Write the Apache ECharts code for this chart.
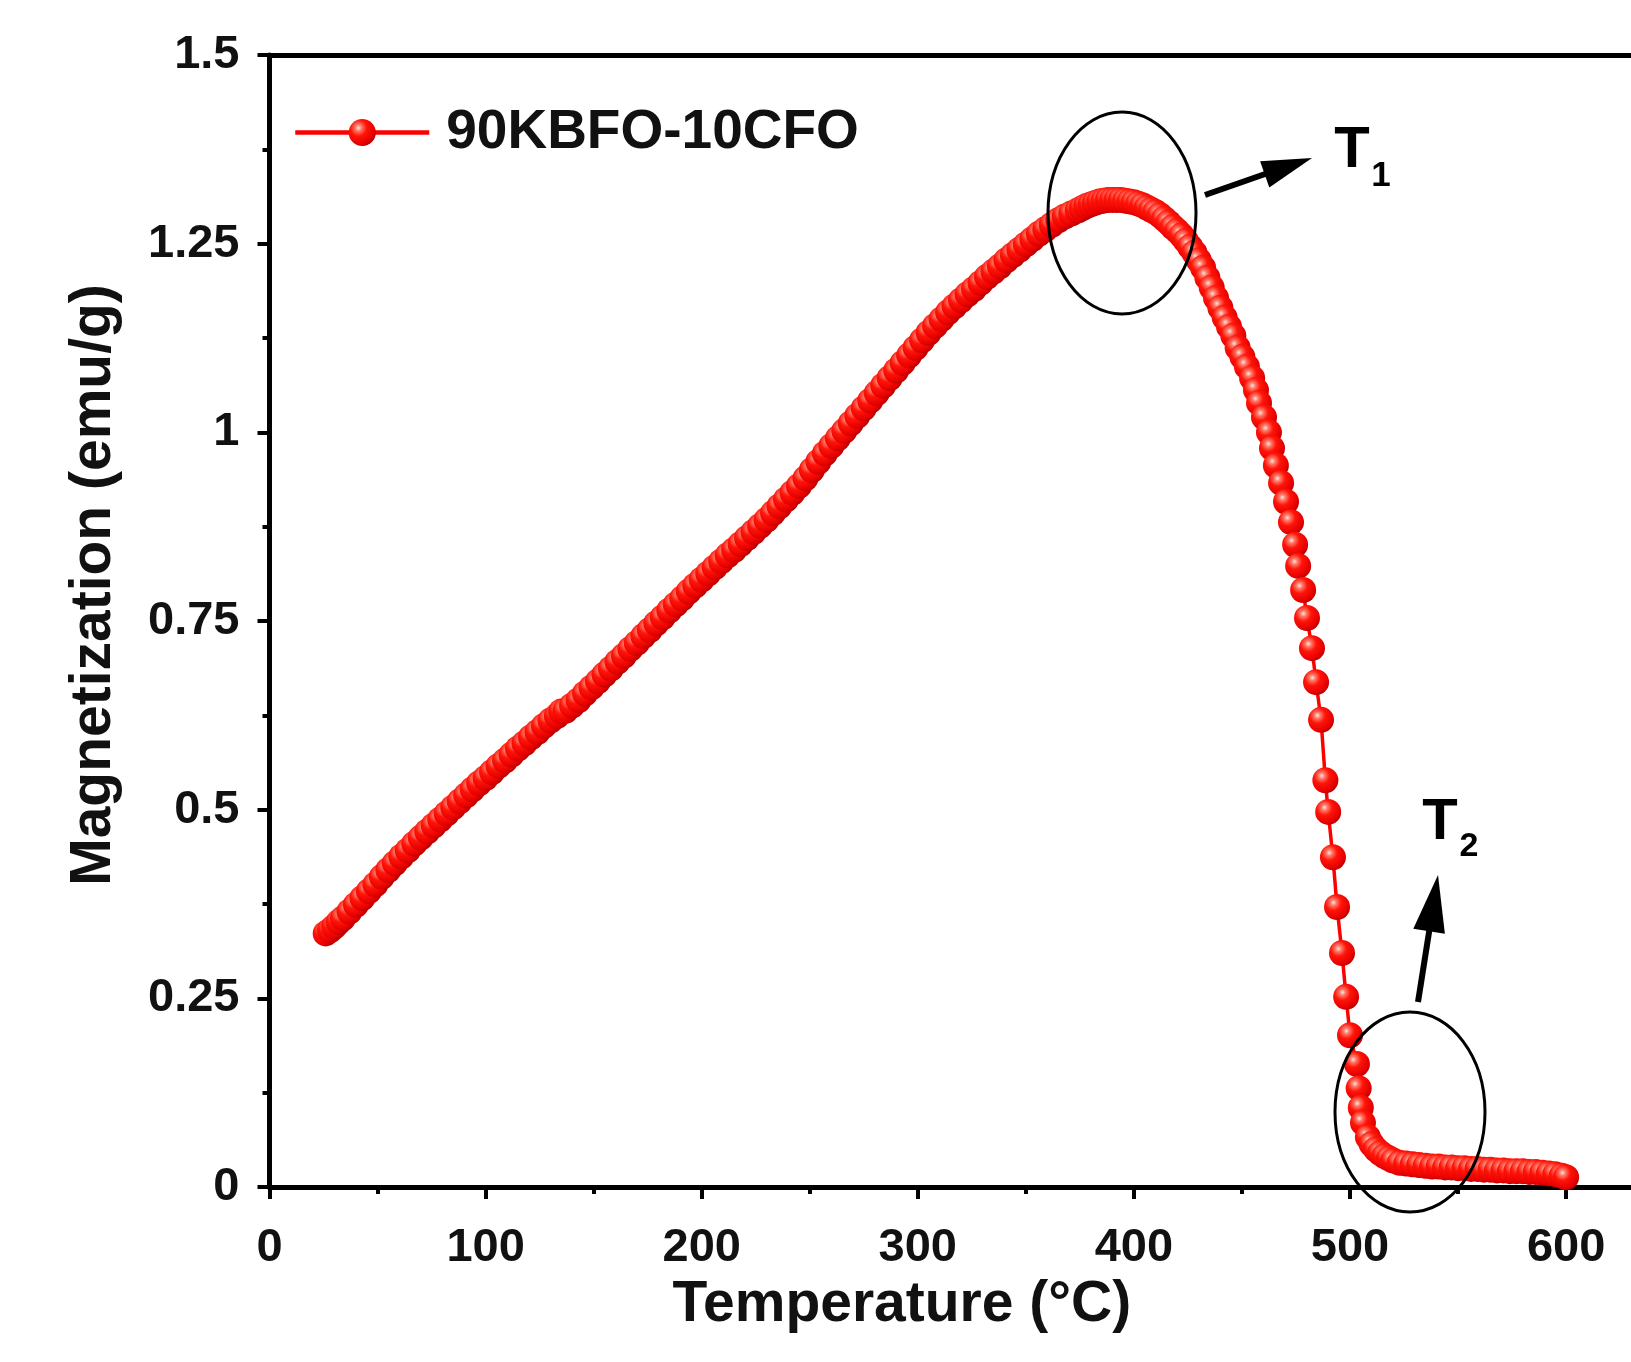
<!DOCTYPE html>
<html><head><meta charset="utf-8">
<script src="https://cdn.jsdelivr.net/npm/echarts@6/dist/echarts.min.js"></script>
<style>html,body{margin:0;padding:0;background:#fff}#c{width:1631px;height:1362px}</style>
</head><body><div id="c"></div><script>
const seriesName = '90KBFO-10CFO';
const xAxisTitle = 'Temperature (°C)';
const yAxisTitle = 'Magnetization (emu/g)';
const xTickLabels = ['0','100','200','300','400','500','600'];
const yTickLabels = ['0','0.25','0.5','0.75','1','1.25','1.5'];

const temperature = [
26,28,30,32,34,37,40,43,46,49,52,55,58,61,64,67,70,73,76,79,82,85,88,91,94,97,100,
103,106,109,112,115,118,121,124,127,130,133,135,137,140,143,146,149,152,155,158,161,164,167,170,
173,176,179,182,185,188,191,194,197,200,203,206,209,212,215,218,221,224,227,230,233,236,239,242,245,248,
251,254,257,260,263,266,269,272,275,278,281,284,287,290,293,296,299,302,305,308,311,314,317,320,
323,326,329,332,335,338,341,344,347,350,353,356,359,362,365,368,371,374,
376,378,380,382,384,386,388,390,392,394,396,398,400,402,404,406,408,410,412,414,416,418,420,
422,424,426,428,430,432,434,436,438,440,442,444,446,448,450.2,
452.3,454.7,456.5,457.9,460.2,462.5,463.9,465.7,468.1,470.4,472.7,474.6,476.0,478.3,480.1,482.4,484.3,486.6,
488.6,489.9,492.1,494.0,496.3,498.2,500.0,503.2,504.0,505.0,506.0,508.3,
510,512,514,516,518,520,523,526,529,532,535,538,541,544,547,550,553,556,559,562,565,568,571,574,577,580,583,586,589,592,595,598,600
];
const magnetization = [
0.336,0.340,0.345,0.351,0.356,0.365,0.374,0.383,0.392,0.401,0.411,0.420,0.429,0.438,0.446,0.455,0.463,0.471,0.479,0.487,0.495,0.503,0.511,0.519,0.527,0.535,0.542,
0.550,0.558,0.565,0.573,0.581,0.588,0.596,0.603,0.611,0.618,0.624,0.630,0.631,0.638,0.645,0.654,0.662,0.670,0.679,0.687,0.696,0.704,0.713,0.721,
0.730,0.738,0.747,0.755,0.764,0.772,0.780,0.789,0.797,0.805,0.813,0.821,0.829,0.837,0.844,0.852,0.860,0.868,0.876,0.884,0.893,0.902,0.911,0.920,0.929,0.939,
0.950,0.961,0.972,0.982,0.992,1.002,1.012,1.022,1.032,1.042,1.052,1.062,1.072,1.082,1.092,1.102,1.112,1.122,1.132,1.141,1.150,1.159,1.167,1.175,
1.183,1.190,1.198,1.206,1.213,1.220,1.228,1.235,1.242,1.249,1.256,1.263,1.269,1.275,1.281,1.286,1.290,1.294,
1.297,1.300,1.302,1.304,1.306,1.307,1.308,1.308,1.308,1.308,1.307,1.306,1.305,1.303,1.301,1.298,1.295,1.292,1.288,1.283,1.278,1.272,1.267,
1.261,1.254,1.246,1.238,1.228,1.218,1.205,1.192,1.178,1.165,1.152,1.140,1.128,1.112,1.100,
1.087,1.072,1.056,1.039,1.020,1.000,0.979,0.956,0.933,0.908,0.881,0.851,0.823,0.791,0.754,0.714,0.669,0.619,
0.539,0.497,0.437,0.371,0.310,0.252,0.201,0.163,0.131,0.105,0.085,0.066,
0.057,0.050,0.045,0.041,0.038,0.035,0.032,0.031,0.030,0.029,0.028,0.027,0.027,0.026,0.026,0.025,0.025,0.024,0.024,0.023,0.023,0.022,0.022,0.021,0.021,0.021,0.020,0.020,0.019,0.018,0.017,0.015,0.013
];

const FONT = '"Liberation Sans", Arial, Helvetica, sans-serif';
const ballFill = {
  type: 'radial', x: 0.36, y: 0.33, r: 0.72,
  colorStops: [
    {offset: 0, color: '#ffe6de'},
    {offset: 0.16, color: '#ff7a6a'},
    {offset: 0.42, color: '#ff1408'},
    {offset: 0.82, color: '#e60000'},
    {offset: 1, color: '#b30000'}
  ]
};

const chart = echarts.init(document.getElementById('c'), null, {renderer: 'canvas'});
const axisLineStyle = {color: '#000', width: 5};
const labelStyle = {fontFamily: FONT, fontWeight: 'bold', fontSize: 47, color: '#111'};
const titleStyle = {fontFamily: FONT, fontWeight: 'bold', fontSize: 57, color: '#111'};

const option = {
  animation: false,
  backgroundColor: '#fff',
  grid: {left: 269.5, top: 55, width: 1512.7, height: 1132, containLabel: false, outerBoundsMode: 'none'},
  legend: {
    data: [seriesName],
    left: 293, top: 105, padding: 0,
    itemWidth: 134, itemHeight: 34,
    lineStyle: {width: 4.5},
    textStyle: {fontFamily: FONT, fontWeight: 'bold', fontSize: 55, color: '#111', lineHeight: 34, padding: [0, 0, 0, 12]}
  },
  xAxis: [{
    type: 'value', min: 0, max: 700, interval: 100, position: 'bottom',
    axisLine: {lineStyle: axisLineStyle},
    axisTick: {length: 12, lineStyle: {width: 4, color: '#000'}},
    minorTick: {show: true, splitNumber: 2, length: 7, lineStyle: {width: 4, color: '#000'}},
    splitLine: {show: false},
    axisLabel: Object.assign({margin: 38, formatter: v => xTickLabels.includes(String(v)) ? String(v) : ''}, labelStyle),
    name: xAxisTitle, nameLocation: 'middle', nameGap: 90,
    nameTextStyle: Object.assign({padding: [0, 248, 0, 0]}, titleStyle)
  }, {
    type: 'value', min: 0, max: 700, position: 'top',
    axisLine: {lineStyle: axisLineStyle},
    axisTick: {show: false}, axisLabel: {show: false}, splitLine: {show: false}
  }],
  yAxis: [{
    type: 'value', min: 0, max: 1.5, interval: 0.25,
    axisLine: {lineStyle: axisLineStyle},
    axisTick: {length: 12, lineStyle: {width: 4, color: '#000'}},
    minorTick: {show: true, splitNumber: 2, length: 7, lineStyle: {width: 4, color: '#000'}},
    splitLine: {show: false},
    axisLabel: Object.assign({margin: 30, formatter: (v, i) => yTickLabels[i] !== undefined ? yTickLabels[i] : ''}, labelStyle),
    name: yAxisTitle, nameLocation: 'middle', nameGap: 147,
    nameTextStyle: Object.assign({padding: [0, 0, 0, 72]}, titleStyle)
  }],
  series: [{
    name: seriesName, type: 'line',
    data: temperature.map((t, i) => [t, magnetization[i]]),
    symbol: 'circle', symbolSize: 26, showAllSymbol: true,
    lineStyle: {color: '#ff0000', width: 3.5},
    itemStyle: {color: ballFill},
    emphasis: {disabled: true},
    clip: false
  }],
  graphic: [
    {type: 'ellipse', shape: {cx: 1122, cy: 213, rx: 74, ry: 101}, style: {fill: 'none', stroke: '#000', lineWidth: 3}, z: 100},
    {type: 'line', shape: {x1: 1205, y1: 195, x2: 1268, y2: 173}, style: {stroke: '#000', lineWidth: 6}, z: 100},
    {type: 'polygon', shape: {points: [[1312, 158], [1269.3, 187.6], [1260.1, 161.2]]}, style: {fill: '#000'}, z: 100},
    {type: 'text', x: 1352, y: 151, style: {text: 'T', font: 'bold 58px ' + FONT, fill: '#000', textAlign: 'center', textVerticalAlign: 'middle'}, z: 100},
    {type: 'text', x: 1381, y: 176, style: {text: '1', font: 'bold 35px ' + FONT, fill: '#000', textAlign: 'center', textVerticalAlign: 'middle'}, z: 100},
    {type: 'ellipse', shape: {cx: 1410, cy: 1112, rx: 75, ry: 100}, style: {fill: 'none', stroke: '#000', lineWidth: 3}, z: 100},
    {type: 'line', shape: {x1: 1418, y1: 1002, x2: 1430, y2: 926}, style: {stroke: '#000', lineWidth: 6}, z: 100},
    {type: 'polygon', shape: {points: [[1438, 875], [1444.9, 933.8], [1413.3, 928.8]]}, style: {fill: '#000'}, z: 100},
    {type: 'text', x: 1440, y: 823, style: {text: 'T', font: 'bold 58px ' + FONT, fill: '#000', textAlign: 'center', textVerticalAlign: 'middle'}, z: 100},
    {type: 'text', x: 1469, y: 847, style: {text: '2', font: 'bold 34px ' + FONT, fill: '#000', textAlign: 'center', textVerticalAlign: 'middle'}, z: 100}
  ]
};
chart.setOption(option);
</script></body></html>
